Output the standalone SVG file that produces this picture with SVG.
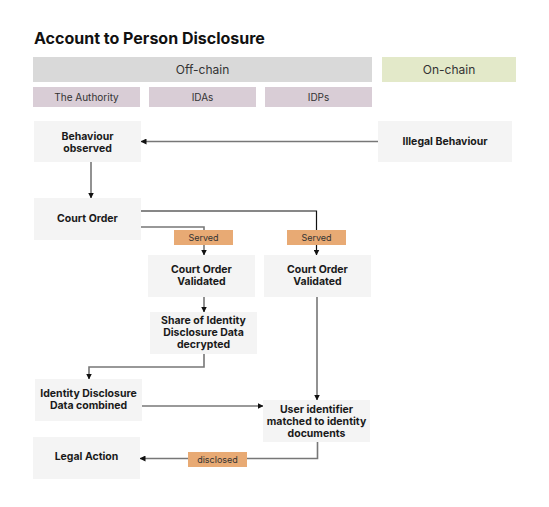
<svg xmlns="http://www.w3.org/2000/svg" width="549" height="507" viewBox="0 0 549 507">
<defs>
<style>
.bg{fill:#ffffff}
.title{font-family:Inter,"Liberation Sans",sans-serif;font-weight:700;font-size:16px;fill:#111}
.hdr{font-family:Inter,"Liberation Sans",sans-serif;font-size:12px;fill:#333;text-anchor:middle}
.lane{font-family:Inter,"Liberation Sans",sans-serif;font-size:10px;fill:#333;text-anchor:middle}
.node rect{fill:#f4f4f4}
.node text{font-family:Inter,"Liberation Sans",sans-serif;font-weight:700;font-size:10.5px;fill:#1a1a1a;text-anchor:middle}
.lbl rect{fill:#e8aa74}
.lbl text{font-family:Inter,"Liberation Sans",sans-serif;font-size:9px;fill:#333;text-anchor:middle}
.edge{fill:none;stroke:#777;stroke-width:1.6}
.edge.dark{stroke:#111;stroke-width:1.2}
</style>
<marker id="arr" viewBox="0 0 6 6" refX="5.5" refY="3" markerWidth="6" markerHeight="6" markerUnits="userSpaceOnUse" orient="auto">
<path d="M0,0 L6,3 L0,6 z" fill="#111"/>
</marker>
</defs>
<rect class="bg" x="0" y="0" width="549" height="507"/>
<text class="title" x="34" y="44">Account to Person Disclosure</text>
<g id="header">
<rect x="33" y="57" width="339" height="25" fill="#d9d9d9"/>
<text class="hdr" x="202.5" y="74">Off-chain</text>
<rect x="382" y="57" width="134" height="25" fill="#e3e9c9"/>
<text class="hdr" x="449" y="74">On-chain</text>
<rect x="33" y="87" width="107" height="20" fill="#d9cdd6"/>
<text class="lane" x="86.5" y="100.5">The Authority</text>
<rect x="149" y="87" width="107" height="20" fill="#d9cdd6"/>
<text class="lane" x="202.5" y="100.5">IDAs</text>
<rect x="265" y="87" width="107" height="20" fill="#d9cdd6"/>
<text class="lane" x="318.5" y="100.5">IDPs</text>
</g>
<g id="connectors">
<path class="edge" d="M378,141.5 H141" marker-end="url(#arr)"/>
<path class="edge" d="M91,162 V198" marker-end="url(#arr)"/>
<path class="edge dark" d="M141,211 H316.5 V255" marker-end="url(#arr)"/>
<path class="edge" d="M141,227 H204 V255" marker-end="url(#arr)"/>
<path class="edge" d="M204,297 V312" marker-end="url(#arr)"/>
<path class="edge" d="M204,354 V367 H89 V379" marker-end="url(#arr)"/>
<path class="edge" d="M317,297 V400" marker-end="url(#arr)"/>
<path class="edge" d="M142,406 H263" marker-end="url(#arr)"/>
<path class="edge" d="M317.5,442 V458.5 H140" marker-end="url(#arr)"/>
</g>
<g id="label-served-1" class="lbl"><rect x="174" y="230" width="59" height="15"/><text x="203.5" y="240.5">Served</text></g>
<g id="label-served-2" class="lbl"><rect x="287" y="230" width="59" height="15"/><text x="316.5" y="240.5">Served</text></g>
<g id="label-disclosed" class="lbl"><rect x="188" y="452" width="59" height="15"/><text x="217.5" y="462.5">disclosed</text></g>
<g id="n-behaviour" class="node"><rect x="34" y="121" width="107" height="41"/><text x="87.5" y="139.5">Behaviour</text><text x="87.5" y="152">observed</text></g>
<g id="n-illegal" class="node"><rect x="378" y="121" width="134" height="41"/><text x="445" y="145">Illegal Behaviour</text></g>
<g id="n-court" class="node"><rect x="34" y="198" width="107" height="42"/><text x="87.5" y="222">Court Order</text></g>
<g id="n-valid1" class="node"><rect x="148" y="255" width="107" height="42"/><text x="201.5" y="273">Court Order</text><text x="201.5" y="285">Validated</text></g>
<g id="n-valid2" class="node"><rect x="264" y="255" width="107" height="42"/><text x="317.5" y="273">Court Order</text><text x="317.5" y="285">Validated</text></g>
<g id="n-share" class="node"><rect x="150" y="312" width="107" height="42"/><text x="203.5" y="323.5">Share of Identity</text><text x="203.5" y="335.5">Disclosure Data</text><text x="203.5" y="347.5">decrypted</text></g>
<g id="n-combined" class="node"><rect x="35" y="379" width="107" height="42"/><text x="88.5" y="396.5">Identity Disclosure</text><text x="88.5" y="408.5">Data combined</text></g>
<g id="n-user" class="node"><rect x="263" y="400" width="107" height="42"/><text x="316.5" y="412.5">User identifier</text><text x="316.5" y="424.5">matched to identity</text><text x="316.5" y="436.5">documents</text></g>
<g id="n-legal" class="node"><rect x="33" y="437" width="107" height="42"/><text x="86.5" y="460">Legal Action</text></g>
</svg>
